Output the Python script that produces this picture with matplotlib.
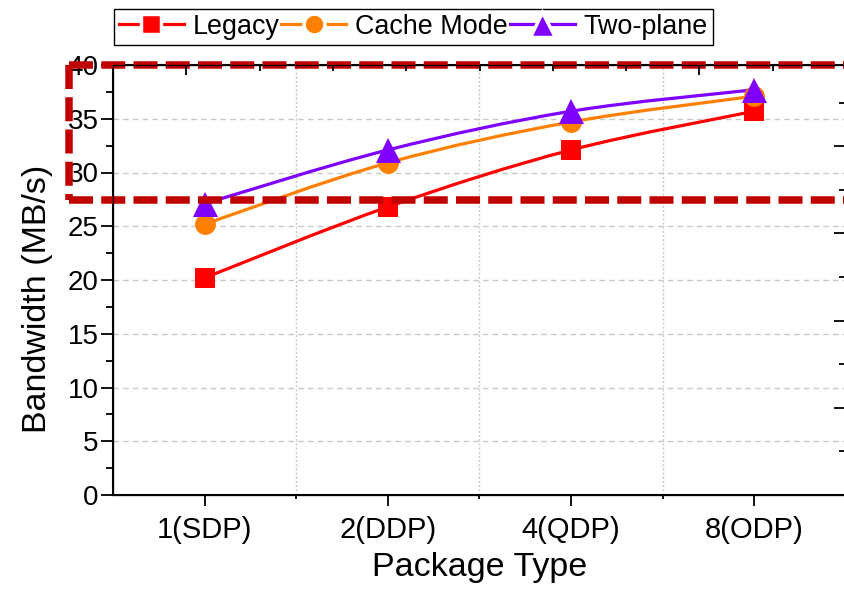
import numpy as np
import matplotlib
matplotlib.use('Agg')
import matplotlib.pyplot as plt
from matplotlib.path import Path
from matplotlib.patches import PathPatch
from matplotlib.lines import Line2D

plt.rcParams['font.family'] = ['Liberation Sans', 'DejaVu Sans']

categories = ['1(SDP)', '2(DDP)', '4(QDP)', '8(ODP)']
legacy = [20.2, 26.8, 32.1, 35.7]
cache_mode = [25.2, 30.9, 34.7, 37.1]
two_plane = [27.1, 32.1, 35.7, 37.7]

series = [
    ('Legacy', legacy, '#ff0000', 's', 14),
    ('Cache Mode', cache_mode, '#ff8000', 'o', 15),
    ('Two-plane', two_plane, '#8000ff', '^', 18),
]

def smooth_path(xs, ys):
    # catmull-rom through the points, drawn as cubic bezier segments
    pts = np.column_stack([xs, ys]).astype(float)
    ext = np.vstack([pts[0], pts, pts[-1]])
    verts = [pts[0]]
    codes = [Path.MOVETO]
    for i in range(len(pts) - 1):
        p0, p1, p2, p3 = ext[i], ext[i + 1], ext[i + 2], ext[i + 3]
        c1 = p1 + (p2 - p0) / 6.0
        c2 = p2 - (p3 - p1) / 6.0
        verts += [c1, c2, p2]
        codes += [Path.CURVE4] * 3
    return Path(verts, codes)

fig = plt.figure(figsize=(8.45, 5.9), dpi=100)
ax = fig.add_axes([113/845, 95/590, 733/845, 430/590])

x = np.arange(len(categories))
handles = []
for name, vals, col, mk, ms in series:
    patch = PathPatch(smooth_path(x, vals), facecolor='none', edgecolor=col,
                      lw=2.3, zorder=3)
    ax.add_patch(patch)
    ax.plot(x, vals, linestyle='none', marker=mk, markersize=ms,
            color=col, markeredgewidth=0, zorder=4)
    handles.append(Line2D([], [], color=col, lw=2.3, marker=mk,
                          markersize=ms, markeredgecolor='white',
                          markeredgewidth=2.5, label=name))

ax.set_xlim(-0.5, 3.5)
ax.set_ylim(0, 40)
ax.set_xticks(x)
ax.set_xticklabels(categories, fontsize=21)
ax.set_xticks([0.5, 1.5, 2.5], minor=True)
ax.set_yticks(np.arange(0, 41, 5))
ax.set_yticks(np.arange(2.5, 40, 5), minor=True)
ax.tick_params(axis='y', labelsize=20, direction='out', length=9, width=1.3, pad=1.5)
ax.tick_params(axis='y', which='minor', direction='out', length=5, width=1.3)
ax.tick_params(axis='x', direction='out', length=8, width=1.3, pad=7)
ax.tick_params(axis='x', which='minor', direction='out', length=3, width=1.3)
ax.set_xlabel('Package Type', fontsize=24.5, labelpad=6)
ax.set_ylabel('Bandwidth (MB/s)', fontsize=24.5)
ax.yaxis.set_label_coords(-0.082, 0.455)

ax.grid(axis='y', which='major', color='#c8c8c8', linestyle=(0, (4, 3)), lw=1)
ax.grid(axis='x', which='minor', color='#c8c8c8', linestyle=(0, (1.5, 1.5)), lw=1)
ax.set_axisbelow(True)
for s in ax.spines.values():
    s.set_linewidth(1.5)

# unlabeled right and top ticks
ax_r = ax.twinx()
ax_r.set_ylim(0, 430/43.6)
ax_r.set_yticks([2, 4, 6, 8])
ax_r.set_yticks([1, 3, 5, 7, 9], minor=True)
ax_r.tick_params(axis='y', which='major', direction='in', length=9, width=1.3, labelright=False)
ax_r.tick_params(axis='y', which='minor', direction='in', length=5, width=1.3)
ax_t = ax.twiny()
ax_t.set_xlim(0, 10)
ax_t.set_xticks([1, 8])
ax_t.set_xticks([2, 3, 4, 5, 6, 7, 9], minor=True)
ax_t.tick_params(axis='x', which='major', direction='in', length=7, width=1.3, labeltop=False)
ax_t.tick_params(axis='x', which='minor', direction='in', length=4, width=1.3)

# dashed highlight box
red = '#c00000'
dash = (0, (3.2, 1.1))
box_x0 = -0.74
box_y1 = 27.45
kw = dict(color=red, lw=5.4, linestyle=dash, clip_on=False, zorder=6,
          solid_capstyle='butt', dash_capstyle='butt')
ax.plot([box_x0, 3.6], [40, 40], **kw)
ax.plot([box_x0, 3.6], [box_y1, box_y1], **kw)
ax.plot([box_x0, box_x0], [40, box_y1], **kw)

leg = fig.legend(handles=handles, loc='upper left',
                 bbox_to_anchor=(114/845, 1 - 9/590), ncol=3, fontsize=19.4,
                 frameon=True, fancybox=False, edgecolor='black',
                 framealpha=1, handlelength=2.4, handletextpad=0.33,
                 columnspacing=0.08, borderpad=0.18, borderaxespad=0)
leg.get_frame().set_linewidth(1.0)

fig.savefig('out.png', dpi=100)
